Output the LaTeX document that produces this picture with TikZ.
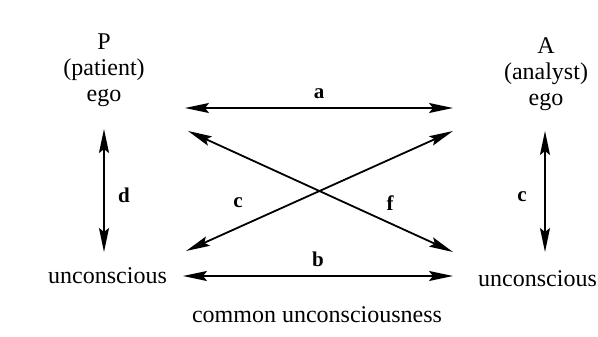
\documentclass[tikz,border=0pt]{standalone}
\usepackage{fontspec}
\setmainfont{Liberation Serif}
\usetikzlibrary{arrows.meta}
\begin{document}
\begin{tikzpicture}[x=1pt,y=-1pt,
  txt/.style={inner sep=0pt,font=\fontsize{24}{26}\selectfont,align=center},
  lbl/.style={inner sep=0pt,font=\fontsize{21}{24}\selectfont\bfseries},
  arr/.style={line width=1.8pt,{Stealth[length=24pt,width=10pt,inset=4pt]}-{Stealth[length=24pt,width=10pt,inset=4pt]}}]
\begin{scope}
\clip (0,0) rectangle (598,337);
\useasboundingbox[fill=white] (0,0) rectangle (598,337);
\node[txt] (pego) at (104,70) {P\\(patient)\\ego};
\node[txt] (aego) at (546,74) {A\\(analyst)\\ego};
\node[txt,anchor=west] (pun) at (48,276) {unconscious};
\node[txt,anchor=west] (aun) at (478,279) {unconscious};
\node[txt] (common) at (317,315) {common unconsciousness};
\coordinate (a1) at (185,108);
\coordinate (a2) at (453,108);
\coordinate (b1) at (183,276);
\coordinate (b2) at (453,276);
\coordinate (f1) at (188,131);
\coordinate (f2) at (453,252);
\coordinate (c1) at (186,251);
\coordinate (c2) at (453,131);
\coordinate (d1) at (104,129);
\coordinate (d2) at (104,252);
\coordinate (e1) at (545,131);
\coordinate (e2) at (545,252);
\draw[arr] (a1) -- node[lbl,above=8pt] (la) {a} (a2);
\draw[arr] (b1) -- node[lbl,above=8pt] (lb) {b} (b2);
\draw[arr] (f1) -- (f2);
\draw[arr] (c2) -- (c1);
\draw[arr] (d1) -- (d2);
\draw[arr] (e1) -- (e2);
\node[lbl] (ld) at (124,195) {d};
\node[lbl] (lc) at (238,203) {c};
\node[lbl] (lf) at (390,203) {f};
\node[lbl] (le) at (522,197) {c};
\end{scope}
\end{tikzpicture}
\end{document}
